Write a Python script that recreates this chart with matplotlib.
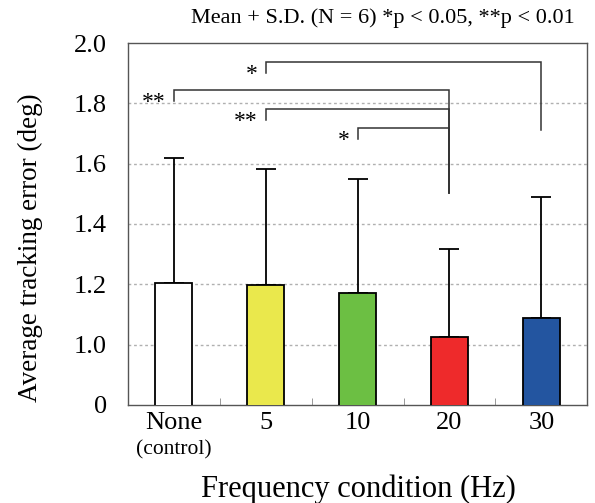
import matplotlib.pyplot as plt
import numpy as np

# data
conditions = ["None", "5", "10", "20", "30"]
means = [1.205, 1.197, 1.172, 1.024, 1.089]
sds = [0.415, 0.385, 0.378, 0.294, 0.399]
colors = ["#FFFFFF", "#EAE84C", "#6CBF43", "#EE2A2B", "#2355A0"]
ytick_vals = [0.8, 1.0, 1.2, 1.4, 1.6, 1.8, 2.0]
ytick_labels = ["0", "1.0", "1.2", "1.4", "1.6", "1.8", "2.0"]

# significance brackets: (left bar, right bar, height, right leg bottom, label)
brackets = [
    (1, 4, 1.936, 1.711, "*"),
    (0, 3, 1.844, 1.504, "**"),
    (1, 3, 1.780, 1.504, "**"),
    (2, 3, 1.717, 1.504, "*"),
]

plt.rcParams["font.family"] = ["Liberation Serif", "DejaVu Serif"]

fig = plt.figure(figsize=(5.95, 5.03), dpi=100)
ax = fig.add_axes([0.215, 0.195, 0.772, 0.7195])

x = np.arange(len(conditions))
ax.bar(x, means, width=0.4, color=colors, edgecolor="black", linewidth=1.3, zorder=3)
ax.errorbar(x, means, yerr=[np.zeros(len(sds)), sds], fmt="none", ecolor="black",
            elinewidth=1.3, capsize=7.5, capthick=1.3, zorder=2)

# dotted grid lines
for v in ytick_vals[1:-1]:
    ax.axhline(v, color="#b0b0b0", linestyle=(0, (2, 2)), linewidth=1, zorder=0)

# brackets
leg = 0.036
for i, j, h, bottom, lab in brackets:
    ax.plot([i, i, j, j], [h - leg, h, h, bottom], color="#333333", linewidth=1.1,
            zorder=4, solid_joinstyle="miter")
    ax.annotate(lab, xy=(i, h), xytext=(-6, -13), textcoords="offset points",
                ha="right", va="baseline", fontsize=17)

ax.set_xlim(-0.5, 4.5)
ax.set_ylim(0.8, 2.0)
ax.set_yticks(ytick_vals)
ax.set_yticklabels(ytick_labels)
ax.set_xticks(x)
ax.set_xticklabels(conditions)
ax.set_xticks(np.arange(0.5, 4.0, 1.0), minor=True)
ax.tick_params(axis="y", length=0, pad=15, labelsize=19)
ax.tick_params(axis="x", which="major", length=0, pad=5, labelsize=19)
ax.tick_params(axis="x", which="minor", direction="in", length=5, color="#888888")

ax.text(0, -0.124, "(control)", transform=ax.get_xaxis_transform(), ha="center",
        va="center", fontsize=15.5)

for s in ax.spines.values():
    s.set_color("#555555")
    s.set_linewidth(1)

fig.text(30 / 595, 1 - 248 / 503, "Average tracking error (deg)", rotation=90,
         ha="center", va="center", fontsize=19.5)
fig.text(358 / 595, 1 - 489 / 503, "Frequency condition (Hz)", ha="center",
         va="center", fontsize=22)

fig.text(0.966, 0.964, "Mean + S.D. (N = 6) *p < 0.05, **p < 0.01", ha="right",
         va="center", fontsize=16)

fig.savefig("out.png", dpi=100)
